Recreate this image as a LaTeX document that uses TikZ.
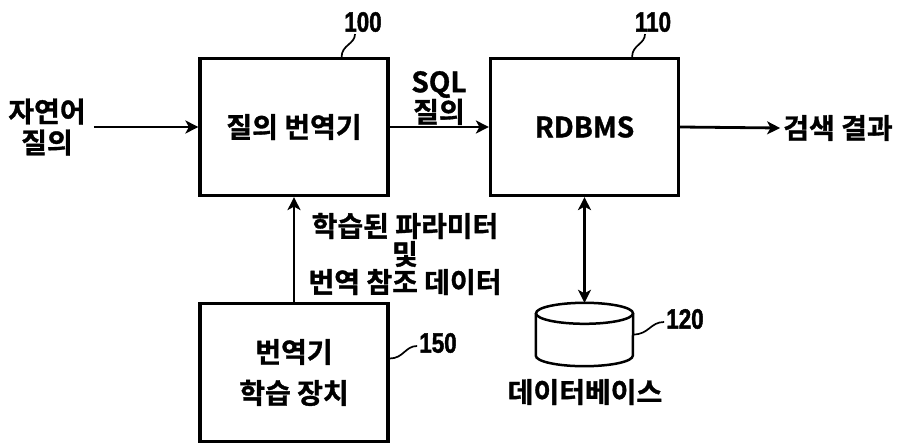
\documentclass[tikz,border=0pt]{standalone}
\usepackage{fontspec}
\setmainfont{Noto Sans CJK KR}[BoldFont={* Bold},BoldFeatures={FakeBold=1.2}]
\newfontfamily\numfont{Liberation Sans Bold}[FakeStretch=0.8,FakeBold=1.5]
\usetikzlibrary{
  arrows.meta,
  shapes.geometric,
  positioning
}

\begin{document}
\begin{tikzpicture}[
      x=1pt,y=-1pt,
      block/.style={
         rectangle,
         draw,
         line width=3.2pt,
         minimum width=188pt,
         minimum height=137pt,
         font=\bfseries\fontsize{28}{41}\selectfont,
         align=center
      },
      store/.style={
         rectangle,
         minimum width=97pt,
         minimum height=63pt
      },
      txt/.style={font=\bfseries\fontsize{28}{31}\selectfont,align=center,inner sep=0pt},
      refnum/.style={font=\numfont\fontsize{28}{28}\selectfont,inner sep=0pt},
      leader/.style={line width=1.7pt},
      conn/.style={->,line width=2.8pt},
      >={Stealth[length=13pt,width=13pt,inset=3.5pt]}
    ]
    \useasboundingbox (0,0) rectangle (899,444);
    % blocks
    \node (trans)   [block] at (294,127)   {질의 번역기};
    \node (rdbms)   [block] at (584.5,127) {RDBMS};
    \node (trainer) [block, minimum height=138pt] at (294,372.5) {번역기\\학습 장치};
    \node (db)      [store] at (584.5,334.5) {};
    \draw[line width=2.5pt] ([yshift=-10.5pt]db.north west) -- ([yshift=10.5pt]db.south west)
         arc[start angle=180,end angle=360,x radius=48.5pt,y radius=10.5pt]
         -- ([yshift=-10.5pt]db.north east);
    \draw[line width=2.5pt] ([yshift=-10.5pt]db.north) ellipse[x radius=48.5pt,y radius=10.5pt];
    % texts
    \node (nlq)    [txt] at (47,127)  {자연어\\질의};
    \node (sql)    [txt, font=\bfseries\fontsize{28}{27}\selectfont] at (439,98) {SQL\\질의};
    \node (res)    [txt] at (838,128) {검색 결과};
    \node (param)  [txt, font=\bfseries\fontsize{28}{28}\selectfont] at (405,254) {학습된 파라미터\\및\\번역 참조 데이터};
    \node (dbname) [txt] at (585,392) {데이터베이스};
    % reference numbers
    \node (n100) [refnum] at (363,22)  {100};
    \node (n110) [refnum] at (653,22)  {110};
    \node (n150) [refnum] at (438,343) {150};
    \node (n120) [refnum] at (685,319) {120};
    % connectors
    \draw[conn] ([xshift=8pt]nlq.east) -- (trans.west);
    \draw[conn] (trans.east) -- (rdbms.west);
    \draw[conn] (rdbms.east) -- ([xshift=-3pt]res.west);
    \draw[conn] (trainer.north) -- (trans.south);
    \draw[conn,<->] (rdbms.south) -- (db.north);
    % leaders
    \draw[leader] ([xshift=-48pt]trans.north east) .. controls +(0,-12) and +(0,10) .. ([xshift=-8pt,yshift=-2pt]n100.south);
    \draw[leader] ([xshift=-48pt]rdbms.north east) .. controls +(0,-12) and +(0,10) .. ([xshift=-8pt,yshift=-2pt]n110.south);
    \draw[leader] ([yshift=14pt]trainer.east) .. controls +(14,0) and +(-12,0) .. ([xshift=-2pt,yshift=-3pt]n150.west);
    \draw[leader] (db.east) .. controls +(16,0) and +(-14,0) .. ([xshift=-2pt,yshift=-3pt]n120.west);
\end{tikzpicture}
\end{document}
